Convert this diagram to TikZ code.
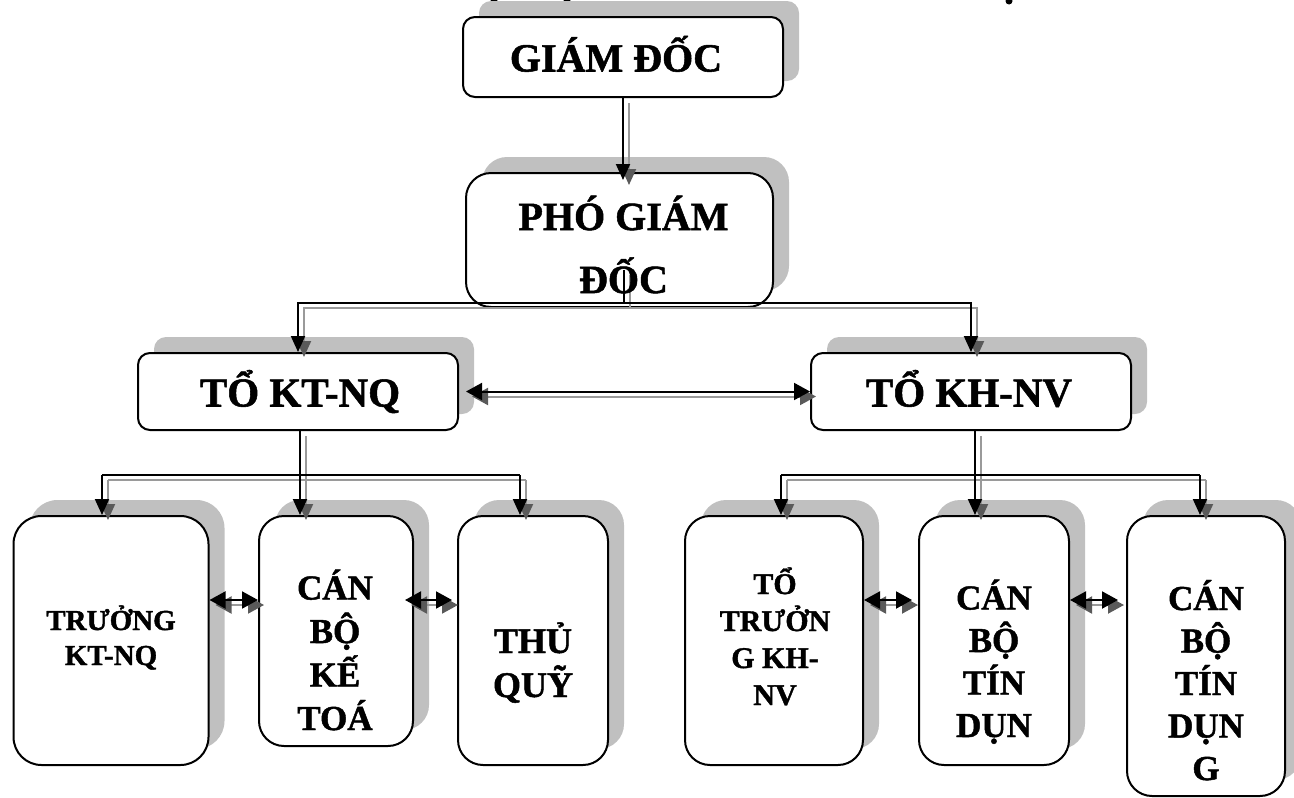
\documentclass[tikz,border=0pt]{standalone}
\usepackage{fontspec}
\setmainfont{Liberation Serif}[BoldFeatures={FakeBold=1.3}]
\usetikzlibrary{arrows.meta,shadows,calc}
\definecolor{shadowc}{HTML}{C0C0C0}
\definecolor{glinec}{HTML}{9A9A9A}
\definecolor{gtipc}{HTML}{5A5A5A}
\tikzset{
  box/.style={draw, line width=2pt, fill=white, rectangle, rounded corners=#1, inner sep=0pt,
    drop shadow={opacity=1, fill=shadowc, shadow xshift=16pt, shadow yshift=16pt}},
  box/.default=12pt,
  txt/.style={align=center, inner sep=0pt, anchor=base},
  bl/.style={line width=2pt, black},
  gsh/.style={transform canvas={shift={(6pt,-5pt)}}},
  gl/.style={line width=2pt, glinec, gsh},
  barr/.style={bl, -{Triangle[length=16pt,width=14pt]}},
  garr/.style={gl, -{Triangle[length=16pt,width=14pt,color=gtipc,fill=gtipc]}},
  bdbl/.style={bl, {Triangle[length=16pt,width=17pt]}-{Triangle[length=16pt,width=17pt]}},
  gdbl/.style={gl, {Triangle[length=16pt,width=17pt,color=gtipc,fill=gtipc]}-{Triangle[length=16pt,width=17pt,color=gtipc,fill=gtipc]}},
}
\begin{document}
\begin{tikzpicture}[x=1pt,y=-1pt]
\useasboundingbox (0,0) rectangle (1294,798);

% fragments of the cut-off line above
\fill (494,0) circle (3.5pt);
\fill (567,0) circle (3.5pt);
\fill (1009,1) circle (3.5pt);

% boxes
\node[box, minimum width=320pt, minimum height=80pt] (gd) at (623,57) {};
\node[box=25pt, minimum width=307pt, minimum height=134pt] (pgd) at (619.5,240) {};
\node[box, minimum width=320pt, minimum height=77pt] (kt) at (298,391.5) {};
\node[box, minimum width=320pt, minimum height=77pt] (kh) at (971,391.5) {};
\node[box=28pt, minimum width=195pt, minimum height=249pt] (tr) at (111,640.5) {};
\node[box=25pt, minimum width=154pt, minimum height=230pt] (cbkt) at (336,631) {};
\node[box=25pt, minimum width=150pt, minimum height=249pt] (tq) at (533,640.5) {};
\node[box=25pt, minimum width=178pt, minimum height=249pt] (tt) at (774,640.5) {};
\node[box=25pt, minimum width=150pt, minimum height=249pt] (cbtd) at (994,640.5) {};
\node[box=25pt, minimum width=158pt, minimum height=280pt] (cbtd2) at (1206,656) {};

% helper coordinates
\coordinate (ps) at (624,270);
\coordinate (pj) at (624,303);
\coordinate (kl) at (102,475);
\coordinate (kc) at (300,475);
\coordinate (kr) at (520,475);
\coordinate (hl) at (781,475);
\coordinate (hc) at (975,475);
\coordinate (hr) at (1200,475);
\coordinate (yd) at (0,600);

% gray shadow connectors
\draw[garr, shorten >=-8pt] (gd.south) -- (gd.south |- pgd.north);
\draw[gl] (ps) -- (pj);
\draw[garr] (pj) -| (kt.north);
\draw[garr] (pj) -| (kh.north);
\draw[gdbl, shorten <=7pt] (kt.east) -- (kh.west);
\draw[gl] (kl) -- (kr);
\draw[garr] (kt.south -| kc) -- (kc |- cbkt.north);
\draw[garr] (kl) -- (kl |- tr.north);
\draw[garr] (kr) -- (kr |- tq.north);
\draw[gl] (hl) -- (hr);
\draw[garr] (kh.south -| hc) -- (hc |- cbtd.north);
\draw[garr] (hl) -- (hl |- tt.north);
\draw[garr] (hr) -- (hr |- cbtd2.north);
\draw[gdbl] (tr.east |- yd) -- (cbkt.west |- yd);
\draw[gdbl, shorten <=-9pt, shorten >=5pt] (cbkt.east |- yd) -- (tq.west |- yd);
\draw[gdbl, shorten >=6pt] (tt.east |- yd) -- (cbtd.west |- yd);
\draw[gdbl, shorten >=8pt] (cbtd.east |- yd) -- (cbtd2.west |- yd);

% black connectors
\draw[barr, shorten >=-8pt] (gd.south) -- (gd.south |- pgd.north);
\draw[bl] (ps) -- (pj);
\draw[barr] (pj) -| (kt.north);
\draw[barr] (pj) -| (kh.north);
\draw[bdbl, shorten <=7pt] (kt.east) -- (kh.west);
\draw[bl] (kl) -- (kr);
\draw[barr] (kt.south -| kc) -- (kc |- cbkt.north);
\draw[barr] (kl) -- (kl |- tr.north);
\draw[barr] (kr) -- (kr |- tq.north);
\draw[bl] (hl) -- (hr);
\draw[barr] (kh.south -| hc) -- (hc |- cbtd.north);
\draw[barr] (hl) -- (hl |- tt.north);
\draw[barr] (hr) -- (hr |- cbtd2.north);
\draw[bdbl] (tr.east |- yd) -- (cbkt.west |- yd);
\draw[bdbl, shorten <=-9pt, shorten >=5pt] (cbkt.east |- yd) -- (tq.west |- yd);
\draw[bdbl, shorten >=6pt] (tt.east |- yd) -- (cbtd.west |- yd);
\draw[bdbl, shorten >=8pt] (cbtd.east |- yd) -- (cbtd2.west |- yd);

% texts
\node[txt, font=\bfseries\fontsize{40pt}{48pt}\selectfont] (gd-t) at (616,71.5) {GIÁM ĐỐC};
\node[txt, font=\bfseries\fontsize{40pt}{63pt}\selectfont] (pgd-t) at (623.5,293) {PHÓ GIÁM\\ĐỐC};
\node[txt, font=\bfseries\fontsize{41pt}{48pt}\selectfont] (kt-t) at (300,406.5) {TỔ KT-NQ};
\node[txt, font=\bfseries\fontsize{41pt}{48pt}\selectfont] (kh-t) at (969,406.5) {TỔ KH-NV};
\node[txt, font=\bfseries\fontsize{29pt}{35pt}\selectfont] (tr-t) at (111,665) {TRƯỞNG\\KT-NQ};
\node[txt, font=\bfseries\fontsize{35pt}{43.5pt}\selectfont] (cbkt-t) at (335,730) {CÁN\\BỘ\\KẾ\\TOÁ};
\node[txt, font=\bfseries\fontsize{36pt}{44pt}\selectfont] (tq-t) at (533,697) {THỦ\\QUỸ};
\node[txt, font=\bfseries\fontsize{30pt}{37pt}\selectfont] (tt-t) at (775,705) {TỔ\\TRƯỞN\\G KH-\\NV};
\node[txt, font=\bfseries\fontsize{35pt}{42.5pt}\selectfont] (cbtd-t) at (994,737) {CÁN\\BỘ\\TÍN\\DỤN};
\node[txt, font=\bfseries\fontsize{35pt}{42.5pt}\selectfont] (cbtd2-t) at (1206,780) {CÁN\\BỘ\\TÍN\\DỤN\\G};
\end{tikzpicture}
\end{document}
